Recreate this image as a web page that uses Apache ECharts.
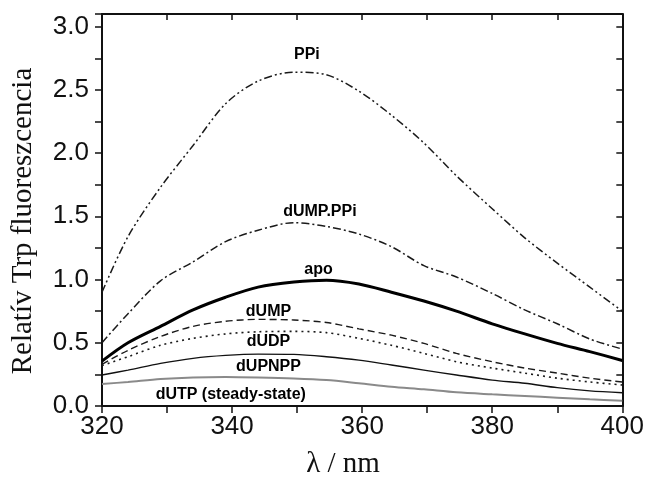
<!DOCTYPE html>
<html>
<head>
<meta charset="utf-8">
<script src="https://cdn.jsdelivr.net/npm/echarts@6/dist/echarts.min.js"></script>
<style>
  html, body { margin: 0; padding: 0; background: #fff; }
  #chart { width: 647px; height: 477px; }
</style>
</head>
<body>
<div id="chart"></div>
<script>
// hullámhossz (nm)
var wavelengths = [320, 324, 329, 334, 339, 344, 349.5, 354.5, 359.5, 364.5, 369.5, 374.5, 380, 385, 390, 395, 400];

// relatív Trp fluoreszcencia
var ppiVals      = [0.90, 1.34, 1.73, 2.06, 2.39, 2.57, 2.64, 2.62, 2.49, 2.30, 2.08, 1.82, 1.56, 1.33, 1.13, 0.94, 0.75];
var dumpPpiVals  = [0.50, 0.73, 0.99, 1.14, 1.30, 1.39, 1.45, 1.42, 1.36, 1.26, 1.11, 1.02, 0.89, 0.76, 0.65, 0.53, 0.45];
var apoVals      = [0.355, 0.50, 0.63, 0.76, 0.86, 0.94, 0.98, 0.995, 0.965, 0.90, 0.83, 0.75, 0.65, 0.57, 0.495, 0.43, 0.36];
var dumpVals     = [0.33, 0.44, 0.55, 0.63, 0.67, 0.685, 0.68, 0.66, 0.61, 0.56, 0.495, 0.416, 0.35, 0.30, 0.26, 0.22, 0.19];
var dudpVals     = [0.32, 0.39, 0.48, 0.535, 0.57, 0.587, 0.59, 0.58, 0.535, 0.48, 0.416, 0.35, 0.30, 0.26, 0.22, 0.19, 0.166];
var dupnppVals   = [0.245, 0.284, 0.337, 0.377, 0.40, 0.41, 0.408, 0.39, 0.363, 0.324, 0.284, 0.245, 0.205, 0.18, 0.145, 0.12, 0.105];
var dutpVals     = [0.174, 0.19, 0.213, 0.226, 0.23, 0.226, 0.218, 0.205, 0.18, 0.153, 0.132, 0.108, 0.092, 0.079, 0.066, 0.053, 0.042];

// feliratok a görbék mellett
var labelTexts = ['PPi', 'dUMP.PPi', 'apo', 'dUMP', 'dUDP', 'dUPNPP', 'dUTP (steady-state)'];
var labelNm    = [351.5, 353.5, 353.3, 345.6, 345.6, 345.6, 339.8];
var labelVal   = [2.78, 1.54, 1.08, 0.75, 0.51, 0.31, 0.09];

var xTickLabels = [320, 340, 360, 380, 400];
var yTickLabels = [0.0, 0.5, 1.0, 1.5, 2.0, 2.5, 3.0];

function pairs(vals) {
    var out = [];
    for (var i = 0; i < wavelengths.length; i++) {
        out.push([wavelengths[i], vals[i]]);
    }
    return out;
}

function lineSeries(name, vals, color, width, dash) {
    return {
        name: name,
        type: 'line',
        data: pairs(vals),
        showSymbol: false,
        smooth: 0.3,
        lineStyle: { color: color, width: width, type: dash },
        z: 3
    };
}

var labelData = [];
for (var i = 0; i < labelTexts.length; i++) {
    labelData.push({ name: labelTexts[i], value: [labelNm[i], labelVal[i]] });
}

var axisFont = { fontFamily: 'Liberation Sans, Arial, sans-serif', fontSize: 26, color: '#111' };
var frameLine = { show: true, onZero: false, lineStyle: { color: '#111', width: 2 } };

var myChart = echarts.init(document.getElementById('chart'), null, { renderer: 'canvas' });
var option = {
    animation: false,
    backgroundColor: '#fff',
    grid: { left: 102, right: 21, top: 14, bottom: 71 },
    xAxis: [
        {
            type: 'value', min: 320, max: 400, interval: 10,
            axisLine: frameLine,
            axisTick: { show: true, length: 7, inside: false, lineStyle: { color: '#111', width: 1.5 } },
            splitLine: { show: false },
            axisLabel: Object.assign({
                margin: 8,
                formatter: function (v) { return xTickLabels.indexOf(v) >= 0 ? String(v) : ''; }
            }, axisFont)
        },
        {
            type: 'value', min: 320, max: 400, interval: 10, position: 'top',
            axisLine: frameLine,
            axisTick: { show: true, length: 6, inside: true, lineStyle: { color: '#111', width: 1.5 } },
            splitLine: { show: false },
            axisLabel: { show: false }
        }
    ],
    yAxis: [
        {
            type: 'value', min: 0, max: 3.1, interval: 0.25,
            axisLine: frameLine,
            axisTick: { show: true, length: 7, inside: false, lineStyle: { color: '#111', width: 1.5 } },
            splitLine: { show: false },
            axisLabel: Object.assign({
                margin: 13,
                formatter: function (v) {
                    for (var k = 0; k < yTickLabels.length; k++) {
                        if (Math.abs(yTickLabels[k] - v) < 1e-6) return yTickLabels[k].toFixed(1);
                    }
                    return '';
                }
            }, axisFont)
        },
        {
            type: 'value', min: 0, max: 3.1, interval: 0.25, position: 'right',
            axisLine: frameLine,
            axisTick: { show: true, length: 6, inside: true, lineStyle: { color: '#111', width: 1.5 } },
            splitLine: { show: false },
            axisLabel: { show: false }
        }
    ],
    graphic: [
        {
            type: 'text', x: 23, y: 221, rotation: Math.PI / 2,
            style: {
                text: 'Relatív Trp fluoreszcencia',
                font: '29px "Liberation Serif", "Times New Roman", serif',
                fill: '#111', align: 'center', verticalAlign: 'middle'
            }
        },
        {
            type: 'text', x: 343, y: 464,
            style: {
                text: 'λ / nm',
                font: '29px "Liberation Serif", "Times New Roman", serif',
                fill: '#111', align: 'center', verticalAlign: 'middle'
            }
        }
    ],
    series: [
        lineSeries('PPi', ppiVals, '#1a1a1a', 1.5, [8, 3, 2, 3, 2, 3]),
        lineSeries('dUMP.PPi', dumpPpiVals, '#1a1a1a', 1.5, [8, 3, 2, 3]),
        lineSeries('apo', apoVals, '#000', 3, 'solid'),
        lineSeries('dUMP', dumpVals, '#1a1a1a', 1.4, [7, 4]),
        lineSeries('dUDP', dudpVals, '#1a1a1a', 1.6, [2, 4]),
        lineSeries('dUPNPP', dupnppVals, '#111', 1.4, 'solid'),
        lineSeries('dUTP (steady-state)', dutpVals, '#8a8a8a', 2, 'solid'),
        {
            name: 'labels',
            type: 'scatter',
            symbolSize: 0,
            itemStyle: { color: 'transparent' },
            data: labelData,
            z: 5,
            label: {
                show: true,
                position: 'inside',
                formatter: '{b}',
                fontFamily: 'Liberation Sans, Arial, sans-serif',
                fontWeight: 'bold',
                fontSize: 16,
                color: '#000',
                textBorderWidth: 0,
                opacity: 1
            }
        }
    ]
};
myChart.setOption(option);
</script>
</body>
</html>
